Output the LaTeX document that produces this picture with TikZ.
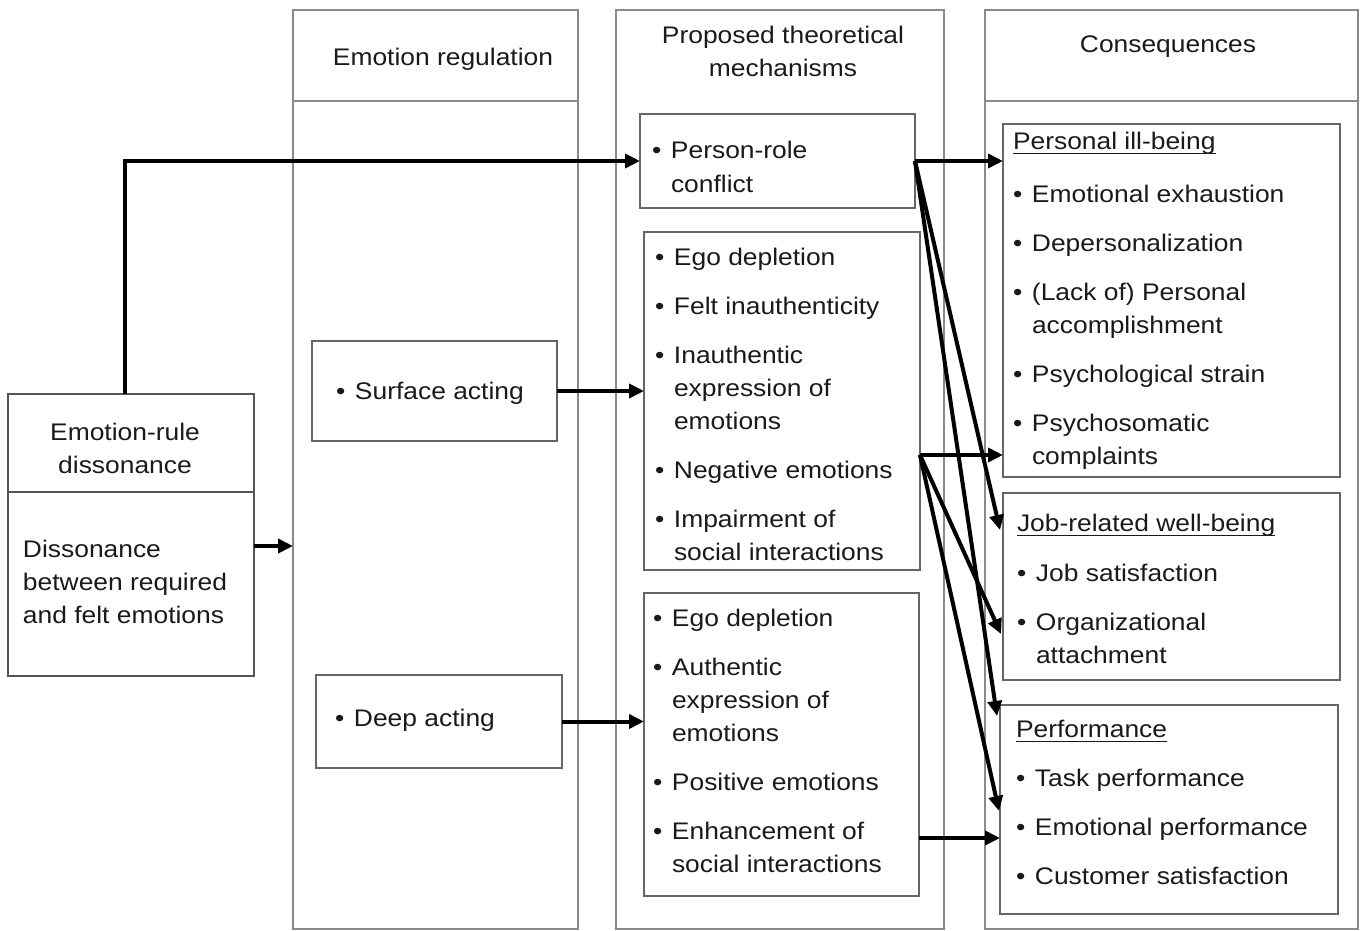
\documentclass[tikz,border=0pt]{standalone}
\usepackage{fontspec}
\setmainfont{Liberation Sans}[FakeStretch=1.1]
\usetikzlibrary{arrows.meta,calc}
\definecolor{colline}{HTML}{8A8A8A}
\definecolor{boxline}{HTML}{666666}
\definecolor{erdline}{HTML}{555555}
\definecolor{txt}{HTML}{1A1A1A}
\newcommand\ulhd[1]{\setbox0\hbox{#1}\rlap{\color{txt}\rule[-5pt]{\wd0}{1.5pt}}\box0}
\newcommand\bl{\makebox[19pt][l]{•}}
\begin{document}
\begin{tikzpicture}[x=1pt,y=-1pt,
  col/.style={draw=colline, line width=1.8pt, inner sep=0pt, outer sep=0pt, anchor=north west},
  bx/.style={draw=boxline, line width=1.8pt, inner sep=0pt, outer sep=0pt, anchor=north west, fill=white},
  tx/.style={inner sep=0pt, outer sep=0pt, font=\fontsize{24}{33}\selectfont, text=txt},
  sep/.style={draw=colline, line width=1.8pt},
  arr/.style={line width=4pt, black, -{Triangle[length=15pt,width=14pt]}}]
\useasboundingbox (0,0) rectangle (1360,931);
% columns
\node[col, minimum width=285pt, minimum height=919pt] (col1) at (293,10) {};
\node[col, minimum width=328pt, minimum height=919pt] (col2) at (616,10) {};
\node[col, minimum width=373pt, minimum height=919pt] (col3) at (985,10) {};
\draw[sep] ($(col1.north west)+(0,91)$) -- ($(col1.north east)+(0,91)$);
\draw[sep] ($(col3.north west)+(0,91)$) -- ($(col3.north east)+(0,91)$);
% column headers
\node[tx, anchor=base] (h1) at (443,66) {Emotion regulation};
\node[tx, anchor=north] (h2) at (783,20.9) {\begin{tabular}{@{}c@{}}Proposed theoretical\\mechanisms\end{tabular}};
\node[tx, anchor=base] (h3) at (1168,53) {Consequences};
% emotion-rule dissonance
\node[bx, draw=erdline, minimum width=246pt, minimum height=282pt] (erd) at (8,394) {};
\draw[draw=erdline, line width=1.8pt] ($(erd.north west)+(0,98)$) -- ($(erd.north east)+(0,98)$);
\node[tx, anchor=north] (terd) at (125,416.9) {\begin{tabular}{@{}c@{}}Emotion-rule\\dissonance\end{tabular}};
\node[tx, anchor=north west] (terdb) at (23,533.9) {\begin{tabular}{@{}l@{}}Dissonance\\between required\\and felt emotions\end{tabular}};
% emotion regulation
\node[bx, minimum width=245pt, minimum height=100pt] (sa) at (312,341) {};
\node[tx, anchor=base west] (tsa) at (336,399) {\bl Surface acting};
\node[bx, minimum width=246pt, minimum height=93pt] (da) at (316,675) {};
\node[tx, anchor=base west] (tda) at (335,726) {\bl Deep acting};
% mechanisms
\node[bx, minimum width=275pt, minimum height=94pt] (prc) at (640,114) {};
\node[tx, anchor=north west] (tprc) at (652,135.9) {\begin{tabular}{@{}l@{}l@{}}\bl&Person-role\\&conflict\end{tabular}};
\node[bx, minimum width=276pt, minimum height=338pt] (sm) at (644,232) {};
\node[tx, anchor=north west] (tsm) at (655,241.9) {\begin{tabular}{@{}l@{}l@{}}
\bl&Ego depletion\\[16pt]
\bl&Felt inauthenticity\\[16pt]
\bl&Inauthentic\\&expression of\\&emotions\\[16pt]
\bl&Negative emotions\\[16pt]
\bl&Impairment of\\&social interactions\end{tabular}};
\node[bx, minimum width=275pt, minimum height=303pt] (dm) at (644,593) {};
\node[tx, anchor=north west] (tdm) at (653,602.9) {\begin{tabular}{@{}l@{}l@{}}
\bl&Ego depletion\\[16pt]
\bl&Authentic\\&expression of\\&emotions\\[16pt]
\bl&Positive emotions\\[16pt]
\bl&Enhancement of\\&social interactions\end{tabular}};
% consequences
\node[bx, minimum width=337pt, minimum height=353pt] (pib) at (1003,124) {};
\node[tx, anchor=north west] (tpib) at (1013,125.9) {\begin{tabular}{@{}l@{}l@{}}
\multicolumn{2}{@{}l@{}}{\ulhd{Personal ill-being}}\\[20pt]
\bl&Emotional exhaustion\\[16pt]
\bl&Depersonalization\\[16pt]
\bl&(Lack of) Personal\\&accomplishment\\[16pt]
\bl&Psychological strain\\[16pt]
\bl&Psychosomatic\\&complaints\end{tabular}};
\node[bx, minimum width=337pt, minimum height=187pt] (jrw) at (1003,493) {};
\node[tx, anchor=north west] (tjrw) at (1017,507.9) {\begin{tabular}{@{}l@{}l@{}}
\multicolumn{2}{@{}l@{}}{\ulhd{Job-related well-being}}\\[17pt]
\bl&Job satisfaction\\[16pt]
\bl&Organizational\\&attachment\end{tabular}};
\node[bx, minimum width=338pt, minimum height=209pt] (perf) at (1000,705) {};
\node[tx, anchor=north west] (tperf) at (1016,713.9) {\begin{tabular}{@{}l@{}l@{}}
\multicolumn{2}{@{}l@{}}{\ulhd{Performance}}\\[16pt]
\bl&Task performance\\[16pt]
\bl&Emotional performance\\[16pt]
\bl&Customer satisfaction\end{tabular}};
% connector points
\coordinate (erdtop) at (125,394);
\coordinate (erdout) at (254,546);
\coordinate (negpt) at (920,455);
\coordinate (enhpt) at (919,838);
\coordinate (jrwA) at ($(jrw.north west)+(-3,37)$);
\coordinate (jrwB) at ($(jrw.north west)+(-2,141)$);
\coordinate (perfA) at ($(perf.north west)+(-3,11)$);
\coordinate (perfB) at ($(perf.north west)+(-1,106)$);
% connectors
\draw[arr] (erdtop) |- (prc.west);
\draw[arr] (erdout) -- (erdout -| col1.west);
\draw[arr] (sa.east) -- (sa.east -| sm.west);
\draw[arr] (da.east) -- (da.east -| dm.west);
\draw[arr] (prc.east) -- (prc.east -| pib.west);
\draw[arr] (prc.east) -- (jrwA);
\draw[arr] (prc.east) -- (perfA);
\draw[arr] (negpt) -- (negpt -| pib.west);
\draw[arr] (negpt) -- (jrwB);
\draw[arr] (negpt) -- (perfB);
\draw[arr] (enhpt) -- (enhpt -| perf.west);
\end{tikzpicture}
\end{document}
